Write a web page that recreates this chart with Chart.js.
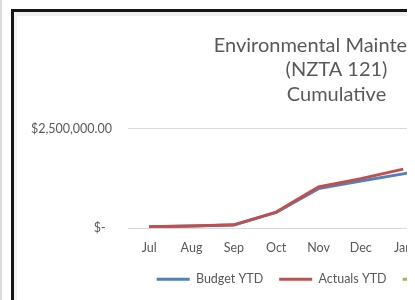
<!DOCTYPE html>
<html>
<head>
<meta charset="utf-8">
<script src="https://cdn.jsdelivr.net/npm/chart.js@4.4.1/dist/chart.umd.min.js"></script>
<style>
  html, body { margin: 0; padding: 0; background: #fff; width: 415px; height: 300px; overflow: hidden; }
  #edge { position: absolute; left: 0; top: 0; width: 2px; height: 300px; background: #dcdcdc; }
  #frame { position: absolute; left: 11px; top: 9px; width: 393px; height: 300px; border-left: 3px solid #151515; border-top: 3px solid #151515; overflow: hidden; background: #fff; }
  #stripTop { position: absolute; left: 0; top: 0; width: 100%; height: 4px; background: #efefef; }
  #stripLeft { position: absolute; left: 0; top: 0; width: 3px; height: 100%; background: #f2f2f2; }
  #wrap { position: absolute; left: 0; top: 0; width: 645px; height: 288px; }
</style>
</head>
<body>
<div id="edge"></div>
<div id="frame">
  <div id="stripTop"></div>
  <div id="stripLeft"></div>
  <div id="wrap"><canvas id="chart" width="645" height="288"></canvas></div>
</div>
<script>
// chart data
const months = ["Jul", "Aug", "Sep", "Oct", "Nov", "Dec", "Jan", "Feb", "Mar", "Apr", "May", "Jun"];
const budgetYTD = [30000, 50000, 75000, 390000, 990000, 1180000, 1360000, 1550000, 1750000, 1950000, 2150000, 2400000];
const actualsYTD = [30000, 50000, 80000, 400000, 1030000, 1240000, 1480000, null, null, null, null, null];
const forecastYTD = [null, null, null, null, null, null, null, null, null, null, null, null];
const yTicks = [0, 2500000];
const titleLines = ["Environmental Maintenance", "(NZTA 121)", "Cumulative"];

const textGray = "#595959";
const fontFamily = "Lato, 'Open Sans', sans-serif";

const money = function(v){
    if(v === 0) return "$-  ";
    return "$" + v.toLocaleString("en-US", { minimumFractionDigits: 2, maximumFractionDigits: 2 });
};

const ctx = document.getElementById("chart");
const chart = new Chart(ctx, {
    type: "line",
    data: {
        labels: months,
        datasets: [
            { label: "Budget YTD", data: budgetYTD, borderColor: "#4F81BD", backgroundColor: "#4F81BD", borderWidth: 3, pointRadius: 0, tension: 0, order: 1 },
            { label: "Actuals YTD", data: actualsYTD, borderColor: "#C0504D", backgroundColor: "#C0504D", borderWidth: 3, pointRadius: 0, tension: 0, order: 0 },
            { label: "Forecast YTD", data: forecastYTD, borderColor: "#9BBB59", backgroundColor: "#9BBB59", borderWidth: 3, borderDash: [3, 3], pointRadius: 0, tension: 0, order: 2 }
        ]
    },
    options: {
        responsive: false,
        animation: false,
        devicePixelRatio: 1,
        layout: { padding: { left: 0, right: 0, top: 0, bottom: 4.5 } },
        plugins: {
            title: {
                display: true,
                text: titleLines,
                color: textGray,
                font: { family: fontFamily, size: 20, weight: "normal", lineHeight: 1.225 },
                padding: { top: 21, bottom: 22 }
            },
            legend: {
                position: "bottom",
                labels: {
                    color: textGray,
                    font: { family: fontFamily, size: 12.5 },
                    usePointStyle: true,
                    pointStyle: "line",
                    pointStyleWidth: 33,
                    padding: 16,
                    sort: (a, b) => a.datasetIndex - b.datasetIndex
                }
            },
            tooltip: { enabled: false }
        },
        scales: {
            x: {
                offset: true,
                grid: { display: false, drawTicks: false },
                border: { display: false },
                ticks: { color: textGray, font: { family: fontFamily, size: 12.5 }, padding: 12, maxRotation: 0, autoSkip: false },
                afterFit: function(scale){ scale.height = 29; }
            },
            y: {
                min: 0,
                max: 2500000,
                grid: { color: "#d9d9d9", lineWidth: 1, drawTicks: false },
                border: { display: false },
                ticks: { color: textGray, font: { family: fontFamily, size: 12.5 }, padding: 16, callback: money },
                afterBuildTicks: function(scale){ scale.ticks = yTicks.map(v => ({ value: v })); },
                afterFit: function(scale){ scale.width = 114; }
            },
            // empty strip on the right so the plot ends where Excel's does
            yRight: {
                position: "right",
                grid: { display: false, drawTicks: false },
                border: { display: false },
                ticks: { display: false },
                afterFit: function(scale){ scale.width = 23; }
            }
        }
    }
});
</script>
</body>
</html>
